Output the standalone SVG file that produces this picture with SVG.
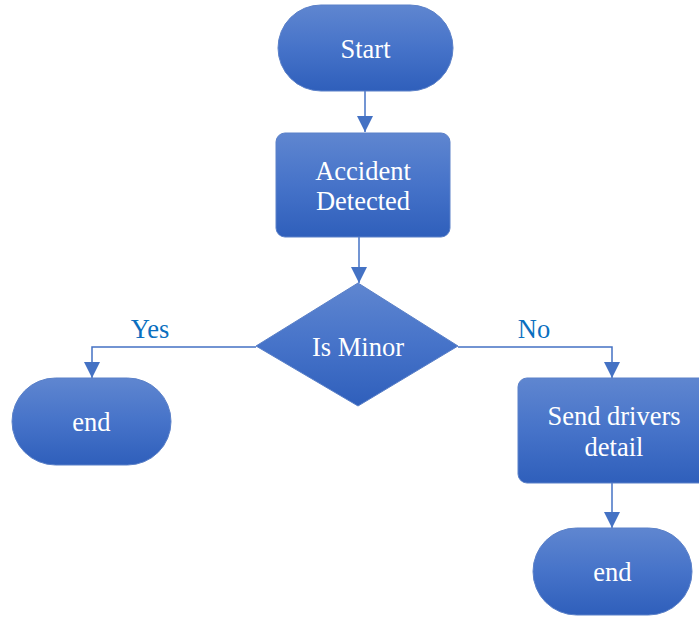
<svg xmlns="http://www.w3.org/2000/svg" width="699" height="617" viewBox="0 0 699 617">
<defs>
<linearGradient id="g" x1="0" y1="0" x2="0" y2="1">
<stop offset="0" stop-color="#5f86d0"/>
<stop offset="0.5" stop-color="#4673c9"/>
<stop offset="1" stop-color="#2f5fbb"/>
</linearGradient>
<marker id="arr" viewBox="0 0 16 16" refX="16" refY="8" markerWidth="16" markerHeight="16" markerUnits="userSpaceOnUse" orient="auto">
<path d="M0,0 L16,8 L0,16 Z" fill="#4472c4"/>
</marker>
<style>
.shape{fill:url(#g);stroke:#5a80c8;stroke-width:1}
.t{font-family:'Liberation Serif','Tinos','DejaVu Serif',serif;font-size:26.5px;fill:#ffffff;text-anchor:middle}
.lbl{font-family:'Liberation Serif','Tinos','DejaVu Serif',serif;font-size:26.5px;fill:#0a6fbf;text-anchor:middle}
.c{fill:none;stroke:#4472c4;stroke-width:1.5;marker-end:url(#arr)}
</style>
</defs>
<rect width="699" height="617" fill="#ffffff"/>
<g id="connectors">
<path class="c" d="M365,91 V132"/>
<path class="c" d="M359,237 V283"/>
<path class="c" d="M256,347 H92 V378"/>
<path class="c" d="M458,347 H612 V378"/>
<path class="c" d="M612,483 V528"/>
<text class="lbl" x="150" y="338">Yes</text>
<text class="lbl" x="534" y="338">No</text>
</g>
<g id="start">
<rect class="shape" x="278" y="5" width="175" height="86" rx="43"/>
<text class="t" x="365.5" y="58">Start</text>
</g>
<g id="accident">
<rect class="shape" x="276" y="133" width="174" height="104" rx="9"/>
<text class="t" x="363" y="180">Accident</text>
<text class="t" x="363" y="210">Detected</text>
</g>
<g id="isminor">
<polygon class="shape" points="358,283 458,346 358,406 256,346"/>
<text class="t" x="358" y="356">Is Minor</text>
</g>
<g id="end1">
<rect class="shape" x="12" y="378" width="159" height="87" rx="43.5"/>
<text class="t" x="91.5" y="431">end</text>
</g>
<g id="send">
<rect class="shape" x="518" y="378" width="192" height="105" rx="9"/>
<text class="t" x="614" y="425">Send drivers</text>
<text class="t" x="614" y="456">detail</text>
</g>
<g id="end2">
<rect class="shape" x="533" y="528" width="159" height="87" rx="43.5"/>
<text class="t" x="612.5" y="581">end</text>
</g>
</svg>
